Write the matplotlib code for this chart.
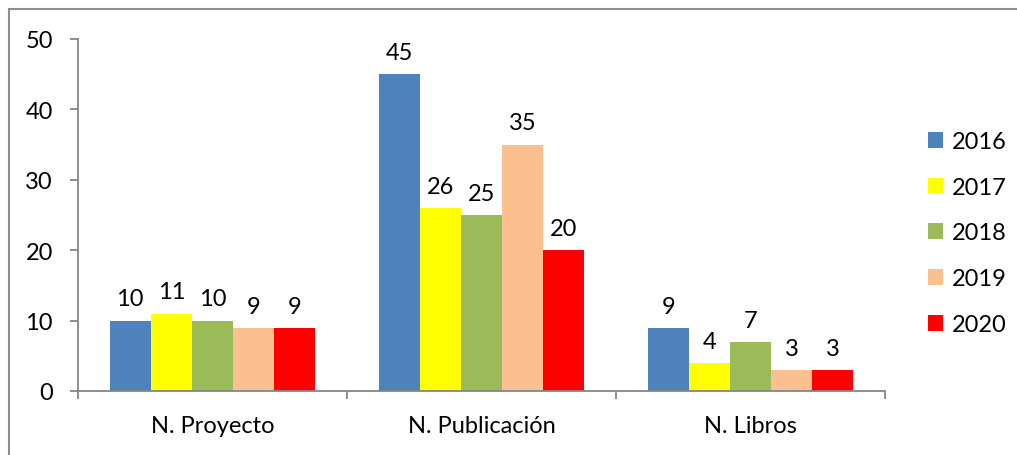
import matplotlib.pyplot as plt
import numpy as np
from matplotlib.patches import Rectangle

plt.rcParams['font.family'] = ['Lato', 'DejaVu Sans']

categories = ['N. Proyecto', 'N. Publicación', 'N. Libros']
years = ['2016', '2017', '2018', '2019', '2020']
values = [
    [10, 45, 9],   # 2016
    [11, 26, 4],   # 2017
    [10, 25, 7],   # 2018
    [9, 35, 3],    # 2019
    [9, 20, 3],    # 2020
]
colors = ['#4F81BD', '#FFFF00', '#9BBB59', '#FAC090', '#FF0000']

W, H = 1017, 456
fs = 17
fig = plt.figure(figsize=(W / 100, H / 100), dpi=100)
ax = fig.add_axes([78 / W, 1 - 392 / H, (885 - 78) / W, (392 - 40) / H])

# outer chart frame (left and top edges visible)
fig.patches.append(Rectangle((9 / W, -0.1), 1.2, 1 - 10 / H + 0.1, transform=fig.transFigure,
                             fill=False, edgecolor='#8C8C8C', linewidth=1.5))

x = np.arange(len(categories))
bw = 0.153
for i, (yr, vals) in enumerate(zip(years, values)):
    pos = x + (i - 2) * bw
    bars = ax.bar(pos, vals, width=bw, color=colors[i], label=yr, zorder=2)
    for b, v in zip(bars, vals):
        ax.annotate(str(v), (b.get_x() + b.get_width() / 2, v), xytext=(0, 8),
                    textcoords='offset points', ha='center', va='bottom', fontsize=fs)

ax.set_xlim(-0.5, 2.5)
ax.set_ylim(0, 50)
ax.set_yticks(range(0, 51, 10))
ax.set_xticks(x)
ax.set_xticklabels(categories)
ax.set_xticks([-0.5, 0.5, 1.5, 2.5], minor=True)

for s in ['top', 'right']:
    ax.spines[s].set_visible(False)
for s in ['left', 'bottom']:
    ax.spines[s].set_color('#868686')
    ax.spines[s].set_linewidth(1.3)

ax.tick_params(axis='y', length=6, width=1.3, color='#868686', labelsize=fs, pad=12)
ax.tick_params(axis='x', which='major', length=0, labelsize=fs, pad=17)
ax.tick_params(axis='x', which='minor', length=6, width=1.3, color='#868686')

ax.legend(loc='center left', bbox_to_anchor=(928 / W, 1 - 234 / H), bbox_transform=fig.transFigure,
          frameon=False, fontsize=fs, handlelength=0.65, handleheight=0.65, handletextpad=0.35,
          labelspacing=1.05, borderpad=0, borderaxespad=0)

fig.savefig('out.png', dpi=100)
